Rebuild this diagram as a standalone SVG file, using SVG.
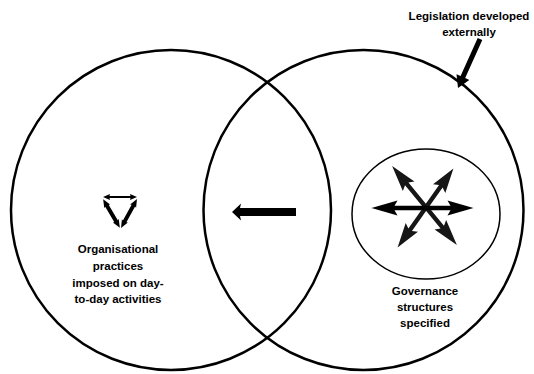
<svg xmlns="http://www.w3.org/2000/svg" width="534" height="374" viewBox="0 0 534 374">
<style>
.big{fill:none;stroke:#000;stroke-width:2.5}
.inner{fill:none;stroke:#000;stroke-width:1.5}
.lbl{font-family:"Liberation Sans",Arial,sans-serif;font-weight:bold;font-size:11.5px;fill:#000;text-anchor:middle}
.arr{fill:#000}
.darr{fill:#161616}
</style>
<defs>
<path id="dbl" d="M -51 0 L -25 -7.5 L -28 -2.2 L 28 -2.2 L 25 -7.5 L 51 0 L 25 7.5 L 28 2.2 L -28 2.2 L -25 7.5 Z"/>
<path id="side" d="M -16.5 0 L -8.5 -3.4 L -9 -2 L 9 -2 L 8.5 -3.4 L 16.5 0 L 8.5 3.4 L 9 2 L -9 2 L -8.5 3.4 Z"/>
<path id="topa" d="M -17 0 L -10 -3 L -10.5 -0.9 L 10.5 -0.9 L 10 -3 L 17 0 L 10 3 L 10.5 0.9 L -10.5 0.9 L -10 3 Z"/>
</defs>
<rect width="534" height="374" fill="#fff"/>
<g id="organisation">
<circle class="big" cx="171" cy="210" r="160"/>
<g id="cycle-icon">
<use href="#topa" transform="translate(120 197)"/>
<use href="#side" transform="translate(111.5 213.5) rotate(59.6)"/>
<use href="#side" transform="translate(129 213.5) rotate(118.9)"/>
</g>
<text class="lbl" x="118" y="253">Organisational</text>
<text class="lbl" x="118" y="270">practices</text>
<text class="lbl" x="118" y="287">imposed on day-</text>
<text class="lbl" x="118" y="303">to-day activities</text>
</g>
<g id="legislation">
<circle class="big" cx="363.5" cy="210" r="160"/>
</g>
<g id="governance">
<ellipse class="inner" cx="426" cy="214" rx="74" ry="65"/>
<g id="star-arrows">
<use class="darr" href="#dbl" transform="translate(424.5 205.5) rotate(50.6)"/>
<use class="darr" href="#dbl" transform="translate(425.5 208) rotate(125.2) scale(0.95 1)"/>
<use class="arr" href="#dbl" transform="translate(422.5 208)"/>
</g>
<text class="lbl" x="425" y="295">Governance</text>
<text class="lbl" x="425" y="311">structures</text>
<text class="lbl" x="425" y="327">specified</text>
</g>
<g id="legislation-label">
<text class="lbl" x="469" y="20">Legislation developed</text>
<text class="lbl" x="469" y="36">externally</text>
</g>
<g id="connectors">
<polygon class="arr" points="232,212 241,203.5 240,208 296,208 296,216 240,216 241,220.5"/>
<polygon class="arr" points="477.7,38 482.3,40 465.2,78.1 469.3,80 458,88 456.5,74.2 460.6,76.1"/>
</g>
</svg>
